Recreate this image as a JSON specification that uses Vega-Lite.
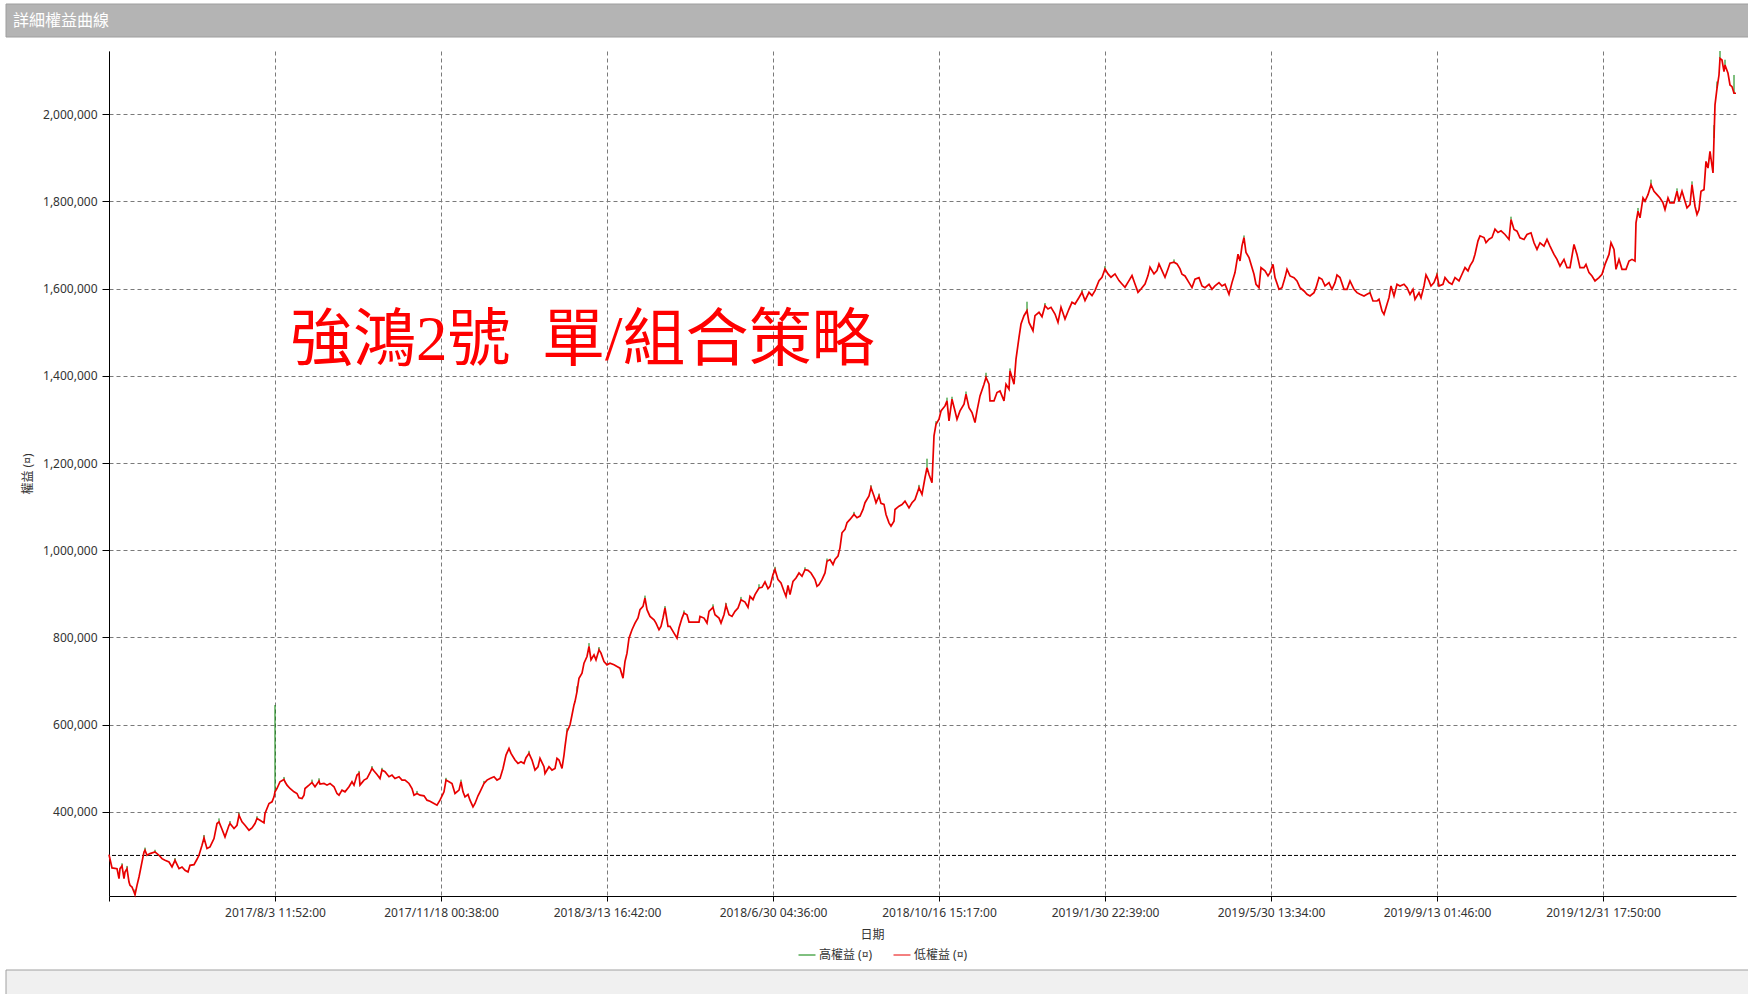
{
  "$schema": "https://vega.github.io/schema/vega-lite/v6.json",
  "background": "white",
  "padding": {"left": 5, "top": 3, "right": 0, "bottom": 0},
  "config": {"view": {"stroke": null}, "font": "Noto Sans, Noto Sans CJK TC"},
  "spacing": 8,
  "resolve": {"legend": {"color": "independent"}},
  "datasets": {
    "equity": [
      {"bar":0,"low":302000,"high":302000},{"bar":3,"low":271300,"high":271300},{"bar":8,"low":269700,"high":269700},{"bar":10,"low":246700,"high":246700},{"bar":11,"low":269700,"high":269700},{"bar":13,"low":275900,"high":282000},{"bar":15,"low":246700,"high":246700},{"bar":16,"low":262100,"high":262100},{"bar":18,"low":269700,"high":276000},{"bar":20,"low":239100,"high":239100},{"bar":21,"low":231400,"high":231400},{"bar":23,"low":227600,"high":227600},{"bar":25,"low":216100,"high":216100},{"bar":26,"low":210000,"high":222000},{"bar":28,"low":231400,"high":231400},{"bar":30,"low":250600,"high":250600},{"bar":31,"low":262100,"high":262100},{"bar":33,"low":285100,"high":285100},{"bar":35,"low":308000,"high":308000},{"bar":36,"low":311900,"high":318000},{"bar":38,"low":300400,"high":300400},{"bar":41,"low":304200,"high":304200},{"bar":46,"low":308000,"high":313000},{"bar":50,"low":300400,"high":300400},{"bar":53,"low":292700,"high":292700},{"bar":56,"low":288900,"high":288900},{"bar":60,"low":285100,"high":285100},{"bar":63,"low":273600,"high":273600},{"bar":66,"low":288900,"high":294000},{"bar":70,"low":269700,"high":269700},{"bar":73,"low":273600,"high":273600},{"bar":76,"low":265900,"high":265900},{"bar":79,"low":262100,"high":262100},{"bar":81,"low":277400,"high":277400},{"bar":85,"low":278900,"high":278900},{"bar":88,"low":291200,"high":291200},{"bar":90,"low":300400,"high":300400},{"bar":93,"low":323400,"high":323400},{"bar":95,"low":340200,"high":347000},{"bar":98,"low":315700,"high":315700},{"bar":101,"low":319500,"high":319500},{"bar":105,"low":338700,"high":338700},{"bar":108,"low":373200,"high":373200},{"bar":110,"low":377000,"high":385000},{"bar":113,"low":360200,"high":360200},{"bar":116,"low":342500,"high":342500},{"bar":120,"low":369300,"high":369300},{"bar":121,"low":373200,"high":379000},{"bar":125,"low":361700,"high":361700},{"bar":128,"low":369300,"high":369300},{"bar":130,"low":392300,"high":398000},{"bar":133,"low":377000,"high":377000},{"bar":136,"low":369300,"high":369300},{"bar":140,"low":357900,"high":357900},{"bar":143,"low":363200,"high":363200},{"bar":146,"low":373200,"high":373200},{"bar":148,"low":384700,"high":390000},{"bar":151,"low":380800,"high":380800},{"bar":155,"low":374700,"high":374700},{"bar":156,"low":396200,"high":396200},{"bar":160,"low":419200,"high":419200},{"bar":163,"low":423000,"high":423000},{"bar":165,"low":434500,"high":434500},{"bar":166,"low":446000,"high":645000},{"bar":168,"low":453600,"high":453600},{"bar":171,"low":469000,"high":469000},{"bar":175,"low":474300,"high":480000},{"bar":176,"low":469000,"high":469000},{"bar":178,"low":461300,"high":461300},{"bar":181,"low":453600,"high":453600},{"bar":185,"low":446000,"high":446000},{"bar":188,"low":442100,"high":442100},{"bar":190,"low":432200,"high":432200},{"bar":193,"low":430700,"high":430700},{"bar":195,"low":438300,"high":438300},{"bar":196,"low":453600,"high":453600},{"bar":200,"low":461300,"high":461300},{"bar":203,"low":467400,"high":474000},{"bar":206,"low":457500,"high":457500},{"bar":210,"low":470500,"high":477000},{"bar":211,"low":463600,"high":463600},{"bar":215,"low":465100,"high":465100},{"bar":218,"low":461300,"high":461300},{"bar":221,"low":465100,"high":465100},{"bar":225,"low":457500,"high":457500},{"bar":228,"low":442100,"high":442100},{"bar":230,"low":438300,"high":438300},{"bar":233,"low":449800,"high":449800},{"bar":236,"low":446000,"high":446000},{"bar":240,"low":457500,"high":457500},{"bar":243,"low":469000,"high":469000},{"bar":245,"low":461300,"high":461300},{"bar":248,"low":484300,"high":484300},{"bar":250,"low":488100,"high":494000},{"bar":251,"low":461300,"high":461300},{"bar":255,"low":472800,"high":472800},{"bar":258,"low":476600,"high":476600},{"bar":261,"low":489700,"high":489700},{"bar":263,"low":499600,"high":505000},{"bar":265,"low":493500,"high":493500},{"bar":268,"low":485800,"high":485800},{"bar":271,"low":476600,"high":476600},{"bar":273,"low":495800,"high":501000},{"bar":276,"low":492000,"high":492000},{"bar":280,"low":480500,"high":480500},{"bar":283,"low":484300,"high":484300},
      {"bar":286,"low":476600,"high":476600},{"bar":290,"low":480500,"high":480500},{"bar":293,"low":472800,"high":472800},{"bar":296,"low":472800,"high":472800},{"bar":300,"low":465100,"high":465100},{"bar":303,"low":453600,"high":453600},{"bar":305,"low":438300,"high":438300},{"bar":308,"low":442100,"high":448000},{"bar":311,"low":438300,"high":438300},{"bar":315,"low":436800,"high":436800},{"bar":318,"low":426800,"high":426800},{"bar":321,"low":424500,"high":424500},{"bar":325,"low":419200,"high":419200},{"bar":328,"low":415300,"high":415300},{"bar":331,"low":426800,"high":426800},{"bar":335,"low":446000,"high":446000},{"bar":337,"low":472800,"high":478000},{"bar":340,"low":469000,"high":469000},{"bar":343,"low":465100,"high":465100},{"bar":346,"low":442100,"high":442100},{"bar":350,"low":449800,"high":449800},{"bar":352,"low":469000,"high":474000},{"bar":354,"low":446000,"high":446000},{"bar":356,"low":434500,"high":434500},{"bar":359,"low":439800,"high":439800},{"bar":361,"low":426800,"high":426800},{"bar":364,"low":411500,"high":411500},{"bar":366,"low":419200,"high":419200},{"bar":369,"low":436800,"high":436800},{"bar":371,"low":446000,"high":446000},{"bar":375,"low":465100,"high":471000},{"bar":378,"low":472800,"high":472800},{"bar":381,"low":476600,"high":476600},{"bar":385,"low":480500,"high":480500},{"bar":388,"low":472800,"high":472800},{"bar":391,"low":476600,"high":476600},{"bar":394,"low":499600,"high":499600},{"bar":397,"low":530300,"high":530300},{"bar":400,"low":545600,"high":545600},{"bar":402,"low":534100,"high":534100},{"bar":406,"low":518800,"high":518800},{"bar":409,"low":511100,"high":511100},{"bar":412,"low":514900,"high":514900},{"bar":415,"low":511100,"high":511100},{"bar":417,"low":524100,"high":524100},{"bar":420,"low":534100,"high":540000},{"bar":423,"low":518800,"high":518800},{"bar":426,"low":495800,"high":495800},{"bar":429,"low":503500,"high":503500},{"bar":431,"low":522600,"high":522600},{"bar":435,"low":503500,"high":503500},{"bar":436,"low":488100,"high":488100},{"bar":440,"low":503500,"high":503500},{"bar":443,"low":495800,"high":495800},{"bar":446,"low":499600,"high":499600},{"bar":448,"low":522600,"high":522600},{"bar":450,"low":518800,"high":518800},{"bar":453,"low":499600,"high":499600},{"bar":455,"low":530300,"high":530300},{"bar":456,"low":549400,"high":549400},{"bar":458,"low":583900,"high":592000},{"bar":461,"low":599200,"high":599200},{"bar":463,"low":622200,"high":622200},{"bar":465,"low":645200,"high":645200},{"bar":466,"low":652900,"high":652900},{"bar":468,"low":675900,"high":688000},{"bar":470,"low":706500,"high":706500},{"bar":473,"low":718000,"high":718000},{"bar":475,"low":741000,"high":741000},{"bar":478,"low":756300,"high":756300},{"bar":480,"low":779300,"high":787000},{"bar":482,"low":748700,"high":748700},{"bar":485,"low":760100,"high":760100},{"bar":487,"low":748700,"high":748700},{"bar":490,"low":771700,"high":778000},{"bar":492,"low":764000,"high":764000},{"bar":495,"low":744800,"high":744800},{"bar":498,"low":737200,"high":737200},{"bar":501,"low":741000,"high":741000},{"bar":505,"low":737200,"high":737200},{"bar":508,"low":733300,"high":733300},{"bar":511,"low":729500,"high":729500},{"bar":514,"low":706500,"high":706500},{"bar":516,"low":744800,"high":744800},{"bar":518,"low":764000,"high":764000},{"bar":520,"low":798500,"high":798500},{"bar":523,"low":817600,"high":817600},{"bar":526,"low":832900,"high":832900},{"bar":529,"low":844500,"high":844500},{"bar":531,"low":863600,"high":863600},{"bar":534,"low":871300,"high":871300},{"bar":536,"low":890400,"high":896000},{"bar":538,"low":863600,"high":863600},{"bar":541,"low":848300,"high":848300},{"bar":545,"low":840600,"high":840600},{"bar":547,"low":832900,"high":832900},{"bar":550,"low":817600,"high":817600},{"bar":552,"low":825300,"high":825300},{"bar":554,"low":844500,"high":844500},{"bar":556,"low":867500,"high":872000},{"bar":559,"low":825300,"high":825300},
      {"bar":561,"low":825300,"high":825300},{"bar":565,"low":810000,"high":810000},{"bar":568,"low":798500,"high":798500},{"bar":570,"low":821500,"high":821500},{"bar":573,"low":844400,"high":844400},{"bar":575,"low":855900,"high":862000},{"bar":578,"low":852100,"high":852100},{"bar":580,"low":835200,"high":835200},{"bar":590,"low":835200,"high":835200},{"bar":591,"low":848300,"high":848300},{"bar":595,"low":844400,"high":844400},{"bar":598,"low":833000,"high":833000},{"bar":600,"low":859800,"high":859800},{"bar":604,"low":869000,"high":876000},{"bar":606,"low":852100,"high":852100},{"bar":610,"low":844400,"high":844400},{"bar":612,"low":833000,"high":833000},{"bar":615,"low":852100,"high":852100},{"bar":617,"low":873600,"high":879000},{"bar":620,"low":852100,"high":852100},{"bar":623,"low":848300,"high":848300},{"bar":626,"low":859800,"high":859800},{"bar":629,"low":867400,"high":867400},{"bar":632,"low":886600,"high":893000},{"bar":636,"low":881200,"high":881200},{"bar":639,"low":869000,"high":869000},{"bar":641,"low":894300,"high":894300},{"bar":644,"low":886600,"high":886600},{"bar":646,"low":898100,"high":898100},{"bar":650,"low":913400,"high":922000},{"bar":653,"low":914900,"high":914900},{"bar":656,"low":927200,"high":927200},{"bar":659,"low":911900,"high":911900},{"bar":661,"low":917200,"high":917200},{"bar":664,"low":944100,"high":944100},{"bar":666,"low":955600,"high":962000},{"bar":669,"low":932600,"high":932600},{"bar":672,"low":924900,"high":924900},{"bar":675,"low":905800,"high":905800},{"bar":677,"low":894300,"high":894300},{"bar":679,"low":919500,"high":919500},{"bar":681,"low":898100,"high":898100},{"bar":684,"low":928700,"high":928700},{"bar":687,"low":936400,"high":936400},{"bar":690,"low":947900,"high":947900},{"bar":693,"low":940200,"high":940200},{"bar":696,"low":955500,"high":961000},{"bar":699,"low":954000,"high":954000},{"bar":702,"low":947900,"high":947900},{"bar":706,"low":932600,"high":932600},{"bar":708,"low":917200,"high":917200},{"bar":710,"low":921100,"high":921100},{"bar":713,"low":932600,"high":932600},{"bar":716,"low":947900,"high":947900},{"bar":718,"low":974800,"high":981000},{"bar":721,"low":978700,"high":978700},{"bar":724,"low":967200,"high":967200},{"bar":726,"low":978700,"high":978700},{"bar":729,"low":986400,"high":986400},{"bar":731,"low":1005500,"high":1005500},{"bar":733,"low":1040000,"high":1040000},{"bar":736,"low":1047700,"high":1047700},{"bar":738,"low":1063000,"high":1063000},{"bar":741,"low":1070700,"high":1070700},{"bar":745,"low":1082200,"high":1088000},{"bar":748,"low":1074500,"high":1074500},{"bar":751,"low":1078300,"high":1078300},{"bar":754,"low":1093700,"high":1093700},{"bar":756,"low":1109000,"high":1109000},{"bar":760,"low":1124300,"high":1124300},{"bar":762,"low":1143500,"high":1149000},{"bar":765,"low":1124300,"high":1124300},{"bar":767,"low":1109000,"high":1109000},{"bar":770,"low":1124300,"high":1130000},{"bar":772,"low":1107500,"high":1107500},{"bar":775,"low":1105100,"high":1105100},{"bar":777,"low":1082000,"high":1082000},{"bar":780,"low":1062800,"high":1062800},{"bar":782,"low":1055200,"high":1055200},{"bar":785,"low":1066700,"high":1066700},{"bar":786,"low":1093500,"high":1093500},{"bar":790,"low":1101100,"high":1101100},
      {"bar":793,"low":1105000,"high":1105000},{"bar":796,"low":1112600,"high":1112600},{"bar":800,"low":1097300,"high":1097300},{"bar":803,"low":1108800,"high":1108800},{"bar":806,"low":1116500,"high":1116500},{"bar":810,"low":1143300,"high":1150000},{"bar":813,"low":1128000,"high":1128000},{"bar":816,"low":1166300,"high":1166300},{"bar":818,"low":1189300,"high":1210000},{"bar":820,"low":1173900,"high":1173900},{"bar":823,"low":1154800,"high":1154800},{"bar":825,"low":1262100,"high":1262100},{"bar":827,"low":1288900,"high":1296000},{"bar":830,"low":1300400,"high":1300400},{"bar":832,"low":1319500,"high":1319500},{"bar":836,"low":1331000,"high":1331000},{"bar":838,"low":1342500,"high":1350000},{"bar":840,"low":1296600,"high":1296600},{"bar":843,"low":1346400,"high":1352000},{"bar":846,"low":1319500,"high":1319500},{"bar":848,"low":1300400,"high":1300400},{"bar":851,"low":1319500,"high":1319500},{"bar":855,"low":1334900,"high":1334900},{"bar":857,"low":1357900,"high":1364000},{"bar":860,"low":1327200,"high":1327200},{"bar":863,"low":1315700,"high":1315700},{"bar":866,"low":1292700,"high":1292700},{"bar":868,"low":1319500,"high":1319500},{"bar":871,"low":1354000,"high":1354000},{"bar":875,"low":1380800,"high":1380800},{"bar":877,"low":1396200,"high":1407000},{"bar":880,"low":1380800,"high":1380800},{"bar":881,"low":1342500,"high":1342500},{"bar":885,"low":1342500,"high":1342500},{"bar":888,"low":1361700,"high":1361700},{"bar":891,"low":1365500,"high":1365500},{"bar":895,"low":1342500,"high":1342500},{"bar":897,"low":1380800,"high":1380800},{"bar":900,"low":1369300,"high":1369300},{"bar":901,"low":1411500,"high":1417000},{"bar":905,"low":1380800,"high":1380800},{"bar":907,"low":1438300,"high":1438300},{"bar":910,"low":1488100,"high":1488100},{"bar":912,"low":1518800,"high":1518800},{"bar":915,"low":1537900,"high":1537900},{"bar":918,"low":1549400,"high":1570000},{"bar":920,"low":1522600,"high":1522600},{"bar":924,"low":1503500,"high":1503500},{"bar":926,"low":1537900,"high":1537900},{"bar":930,"low":1545600,"high":1545600},{"bar":933,"low":1535600,"high":1535600},{"bar":936,"low":1560900,"high":1567000},{"bar":939,"low":1553200,"high":1553200},{"bar":942,"low":1557100,"high":1557100},{"bar":946,"low":1541800,"high":1541800},{"bar":949,"low":1522600,"high":1522600},{"bar":952,"low":1557100,"high":1557100},{"bar":956,"low":1530300,"high":1530300},{"bar":960,"low":1553200,"high":1553200},{"bar":963,"low":1568600,"high":1568600},{"bar":966,"low":1564700,"high":1564700},{"bar":970,"low":1579600,"high":1579600},{"bar":973,"low":1591500,"high":1598000},{"bar":976,"low":1572400,"high":1572400},{"bar":980,"low":1591500,"high":1591500},{"bar":983,"low":1583900,"high":1583900},{"bar":986,"low":1595400,"high":1595400},{"bar":990,"low":1618400,"high":1618400},{"bar":993,"low":1626100,"high":1626100},{"bar":996,"low":1645200,"high":1652000},{"bar":999,"low":1633700,"high":1633700},{"bar":1002,"low":1626100,"high":1626100},{"bar":1006,"low":1633700,"high":1633700},{"bar":1010,"low":1618400,"high":1618400},{"bar":1013,"low":1610700,"high":1610700},{"bar":1016,"low":1603100,"high":1603100},{"bar":1020,"low":1618400,"high":1618400},{"bar":1023,"low":1629900,"high":1629900},{"bar":1026,"low":1610700,"high":1610700},{"bar":1029,"low":1591500,"high":1591500},{"bar":1032,"low":1599200,"high":1599200},{"bar":1036,"low":1610700,"high":1610700},{"bar":1039,"low":1629900,"high":1629900},{"bar":1041,"low":1649100,"high":1649100},{"bar":1045,"low":1633700,"high":1633700},{"bar":1048,"low":1641400,"high":1641400},{"bar":1050,"low":1656700,"high":1656700},{"bar":1053,"low":1641400,"high":1641400},{"bar":1056,"low":1626100,"high":1626100},{"bar":1059,"low":1645200,"high":1645200},{"bar":1061,"low":1658200,"high":1658200},{"bar":1065,"low":1660500,"high":1667000},{"bar":1068,"low":1656700,"high":1656700},{"bar":1071,"low":1645200,"high":1645200},
      {"bar":1073,"low":1633000,"high":1633000},{"bar":1076,"low":1629000,"high":1629000},{"bar":1080,"low":1613800,"high":1613800},{"bar":1083,"low":1602300,"high":1602300},{"bar":1086,"low":1621500,"high":1621500},{"bar":1090,"low":1625300,"high":1625300},{"bar":1093,"low":1606100,"high":1606100},{"bar":1096,"low":1602300,"high":1602300},{"bar":1100,"low":1610000,"high":1610000},{"bar":1103,"low":1598500,"high":1598500},{"bar":1106,"low":1606100,"high":1606100},{"bar":1110,"low":1613800,"high":1613800},{"bar":1113,"low":1606100,"high":1606100},{"bar":1116,"low":1610000,"high":1610000},{"bar":1120,"low":1587000,"high":1587000},{"bar":1123,"low":1613800,"high":1613800},{"bar":1126,"low":1636800,"high":1636800},{"bar":1129,"low":1678900,"high":1678900},{"bar":1131,"low":1663600,"high":1663600},{"bar":1133,"low":1698100,"high":1698100},{"bar":1135,"low":1717200,"high":1722000},{"bar":1137,"low":1682800,"high":1682800},{"bar":1140,"low":1671300,"high":1671300},{"bar":1142,"low":1655900,"high":1655900},{"bar":1145,"low":1633000,"high":1633000},{"bar":1147,"low":1610000,"high":1610000},{"bar":1150,"low":1602300,"high":1602300},{"bar":1152,"low":1648300,"high":1648300},{"bar":1156,"low":1640600,"high":1640600},{"bar":1159,"low":1629100,"high":1629100},{"bar":1161,"low":1636800,"high":1636800},{"bar":1164,"low":1655900,"high":1655900},{"bar":1166,"low":1625300,"high":1625300},{"bar":1170,"low":1598500,"high":1598500},{"bar":1173,"low":1602300,"high":1602300},{"bar":1176,"low":1625300,"high":1625300},{"bar":1178,"low":1644400,"high":1644400},{"bar":1181,"low":1629100,"high":1629100},{"bar":1185,"low":1625300,"high":1625300},{"bar":1188,"low":1617600,"high":1617600},{"bar":1191,"low":1602300,"high":1602300},{"bar":1195,"low":1594600,"high":1594600},{"bar":1198,"low":1587000,"high":1587000},{"bar":1201,"low":1583100,"high":1583100},{"bar":1205,"low":1590800,"high":1590800},{"bar":1207,"low":1602300,"high":1602300},{"bar":1210,"low":1625300,"high":1625300},{"bar":1213,"low":1621500,"high":1621500},{"bar":1216,"low":1606100,"high":1606100},{"bar":1220,"low":1613800,"high":1613800},{"bar":1223,"low":1598500,"high":1598500},{"bar":1226,"low":1613800,"high":1613800},{"bar":1228,"low":1631400,"high":1631400},{"bar":1231,"low":1625300,"high":1625300},{"bar":1235,"low":1598500,"high":1598500},{"bar":1238,"low":1598500,"high":1598500},{"bar":1241,"low":1617600,"high":1617600},{"bar":1245,"low":1598500,"high":1598500},{"bar":1248,"low":1590800,"high":1590800},{"bar":1251,"low":1587000,"high":1587000},{"bar":1255,"low":1583100,"high":1583100},{"bar":1258,"low":1587000,"high":1587000},{"bar":1261,"low":1590800,"high":1597000},{"bar":1264,"low":1571600,"high":1571600},{"bar":1268,"low":1571600,"high":1571600},{"bar":1270,"low":1575500,"high":1575500},{"bar":1273,"low":1548700,"high":1548700},{"bar":1275,"low":1541000,"high":1541000},{"bar":1278,"low":1564000,"high":1564000},{"bar":1280,"low":1579300,"high":1579300},{"bar":1282,"low":1606100,"high":1606100},{"bar":1285,"low":1583100,"high":1583100},{"bar":1288,"low":1610000,"high":1610000},{"bar":1291,"low":1606100,"high":1606100},{"bar":1295,"low":1610000,"high":1610000},{"bar":1298,"low":1602300,"high":1602300},{"bar":1301,"low":1587000,"high":1587000},{"bar":1304,"low":1598500,"high":1598500},{"bar":1306,"low":1575500,"high":1575500},{"bar":1310,"low":1590800,"high":1590800},{"bar":1312,"low":1579300,"high":1579300},{"bar":1315,"low":1606100,"high":1606100},{"bar":1317,"low":1631400,"high":1631400},{"bar":1320,"low":1617600,"high":1617600},{"bar":1322,"low":1606100,"high":1606100},{"bar":1325,"low":1613800,"high":1613800},{"bar":1328,"low":1631400,"high":1637000},{"bar":1330,"low":1606100,"high":1606100},{"bar":1334,"low":1610000,"high":1610000},{"bar":1336,"low":1625300,"high":1625300},{"bar":1340,"low":1613800,"high":1613800},{"bar":1343,"low":1610000,"high":1610000},{"bar":1346,"low":1625300,"high":1625300},{"bar":1350,"low":1617600,"high":1617600},{"bar":1353,"low":1633000,"high":1633000},{"bar":1356,"low":1648300,"high":1648300},{"bar":1359,"low":1640600,"high":1640600},{"bar":1361,"low":1652100,"high":1652100},{"bar":1364,"low":1663600,"high":1663600},{"bar":1366,"low":1678900,"high":1678900},{"bar":1369,"low":1709600,"high":1709600},{"bar":1371,"low":1721100,"high":1721100},{"bar":1375,"low":1717200,"high":1717200},{"bar":1377,"low":1705700,"high":1705700},{"bar":1380,"low":1713400,"high":1713400},{"bar":1383,"low":1717200,"high":1717200},{"bar":1386,"low":1736400,"high":1736400},{"bar":1389,"low":1728700,"high":1728700},{"bar":1392,"low":1732600,"high":1732600},
      {"bar":1396,"low":1724200,"high":1724200},{"bar":1400,"low":1712800,"high":1712800},{"bar":1402,"low":1758500,"high":1765000},{"bar":1405,"low":1735600,"high":1735600},{"bar":1408,"low":1731800,"high":1731800},{"bar":1411,"low":1716600,"high":1716600},{"bar":1415,"low":1712800,"high":1712800},{"bar":1418,"low":1724200,"high":1724200},{"bar":1422,"low":1728000,"high":1728000},{"bar":1425,"low":1705200,"high":1705200},{"bar":1428,"low":1689900,"high":1689900},{"bar":1431,"low":1705200,"high":1705200},{"bar":1435,"low":1697500,"high":1697500},{"bar":1438,"low":1712800,"high":1712800},{"bar":1441,"low":1697500,"high":1697500},{"bar":1445,"low":1678500,"high":1678500},{"bar":1448,"low":1667100,"high":1667100},{"bar":1451,"low":1651800,"high":1651800},{"bar":1455,"low":1667100,"high":1667100},{"bar":1458,"low":1648000,"high":1648000},{"bar":1461,"low":1648000,"high":1648000},{"bar":1465,"low":1701300,"high":1701300},{"bar":1468,"low":1678500,"high":1678500},{"bar":1471,"low":1648000,"high":1648000},{"bar":1475,"low":1648000,"high":1648000},{"bar":1477,"low":1655600,"high":1655600},{"bar":1480,"low":1636600,"high":1636600},{"bar":1483,"low":1629000,"high":1629000},{"bar":1486,"low":1617500,"high":1617500},{"bar":1490,"low":1625100,"high":1625100},{"bar":1493,"low":1632800,"high":1632800},{"bar":1496,"low":1655600,"high":1655600},{"bar":1500,"low":1678500,"high":1678500},{"bar":1502,"low":1705200,"high":1705200},{"bar":1505,"low":1689900,"high":1689900},{"bar":1507,"low":1644200,"high":1644200},{"bar":1510,"low":1667100,"high":1667100},{"bar":1513,"low":1644200,"high":1644200},{"bar":1517,"low":1644200,"high":1644200},{"bar":1520,"low":1663200,"high":1663200},{"bar":1523,"low":1667100,"high":1667100},{"bar":1526,"low":1663200,"high":1663200},{"bar":1527,"low":1750900,"high":1750900},{"bar":1529,"low":1777500,"high":1785000},{"bar":1531,"low":1762300,"high":1762300},{"bar":1534,"low":1808000,"high":1808000},{"bar":1536,"low":1800400,"high":1800400},{"bar":1539,"low":1815600,"high":1815600},{"bar":1542,"low":1838500,"high":1850000},{"bar":1545,"low":1823300,"high":1823300},{"bar":1548,"low":1815600,"high":1815600},{"bar":1551,"low":1808000,"high":1808000},{"bar":1554,"low":1796600,"high":1796600},{"bar":1556,"low":1781400,"high":1781400},{"bar":1559,"low":1808000,"high":1808000},{"bar":1561,"low":1796600,"high":1796600},{"bar":1565,"low":1796600,"high":1796600},{"bar":1568,"low":1823300,"high":1830000},{"bar":1570,"low":1800400,"high":1800400},{"bar":1573,"low":1823300,"high":1823300},{"bar":1576,"low":1800400,"high":1800400},{"bar":1578,"low":1785200,"high":1785200},{"bar":1581,"low":1792800,"high":1792800},{"bar":1583,"low":1838500,"high":1846000},{"bar":1586,"low":1789000,"high":1789000},{"bar":1588,"low":1769900,"high":1769900},{"bar":1590,"low":1781400,"high":1781400},{"bar":1592,"low":1823300,"high":1823300},{"bar":1595,"low":1827100,"high":1827100},{"bar":1597,"low":1891800,"high":1891800},{"bar":1599,"low":1876600,"high":1876600},{"bar":1601,"low":1914700,"high":1914700},{"bar":1604,"low":1865200,"high":1865200},{"bar":1605,"low":1945200,"high":1975000},{"bar":1606,"low":2021400,"high":2021400},{"bar":1608,"low":2059500,"high":2075000},{"bar":1610,"low":2089900,"high":2089900},{"bar":1611,"low":2128100,"high":2145000},{"bar":1613,"low":2124300,"high":2124300},{"bar":1615,"low":2097600,"high":2097600},{"bar":1616,"low":2112900,"high":2125000},{"bar":1619,"low":2093800,"high":2093800},{"bar":1621,"low":2067100,"high":2067100},{"bar":1623,"low":2063300,"high":2063300},{"bar":1625,"low":2048100,"high":2090000},{"bar":1627,"low":2048100,"high":2048100}
    ]
  },
  "vconcat": [
    {
      "width": 1640,
      "height": 33,
      "data": {"values": [{"label": "詳細權益曲線", "start": -103, "end": 1640}]},
      "encoding": {
        "x": {"field": "start", "type": "quantitative", "scale": {"domain": [0, 1640], "nice": false, "zero": false}, "axis": null}
      },
      "layer": [
        {
          "mark": {"type": "rect", "color": "#b4b4b4", "stroke": "#9e9e9e", "strokeWidth": 1},
          "encoding": {"x2": {"field": "end"}}
        },
        {
          "mark": {"type": "text", "align": "left", "baseline": "middle", "dx": 7, "color": "white", "fontSize": 16, "font": "Noto Sans CJK TC"},
          "encoding": {"text": {"field": "label"}}
        },
        {
          "mark": {"type": "text", "baseline": "top", "dy": 13.5, "fontSize": 8},
          "encoding": {"text": {"value": " "}}
        }
      ]
    },
    {
      "width": 1627,
      "height": 845,
      "layer": [
        {
          "data": {"values": [{"v": 300000}]},
          "mark": {"type": "rule", "color": "black", "strokeDash": [4, 2], "strokeWidth": 1},
          "encoding": {"y": {"field": "v", "type": "quantitative"}}
        },
        {
          "data": {"name": "equity"},
          "mark": {"type": "rule", "strokeWidth": 1},
          "encoding": {
            "x": {"field": "bar", "type": "quantitative"},
            "y": {"field": "low", "type": "quantitative"},
            "y2": {"field": "high"},
            "color": {"datum": "高權益 (¤)"}
          }
        },
        {
          "data": {"name": "equity"},
          "mark": {"type": "line", "strokeWidth": 1.7},
          "encoding": {
            "x": {
              "field": "bar", "type": "quantitative",
              "scale": {"domain": [0, 1627], "nice": false, "zero": false},
              "axis": {
                "values": [0, 166, 332, 498, 664, 830, 996, 1162, 1328, 1494],
                "labelExpr": "['', '2017/8/3 11:52:00', '2017/11/18 00:38:00', '2018/3/13 16:42:00', '2018/6/30 04:36:00', '2018/10/16 15:17:00', '2019/1/30 22:39:00', '2019/5/30 13:34:00', '2019/9/13 01:46:00', '2019/12/31 17:50:00'][round(datum.value / 166)]",
                "title": "日期",
                "titleX": 763,
                "titlePadding": 11,
                "titleFontSize": 12,
                "titleFontWeight": "normal",
                "titleColor": "#333333",
                "grid": true,
                "gridDash": [4, 3],
                "gridColor": "#7a7a7a",
                "gridWidth": 1,
                "domainColor": "black",
                "tickColor": "black",
                "tickSize": 5,
                "labelPadding": 6,
                "labelFontSize": 12,
                "labelColor": "#333333",
                "labelFlush": false,
                "labelOverlap": false
              }
            },
            "y": {
              "field": "low", "type": "quantitative",
              "scale": {"domain": [207000, 2145000], "nice": false, "zero": false},
              "axis": {
                "values": [400000, 600000, 800000, 1000000, 1200000, 1400000, 1600000, 1800000, 2000000],
                "format": ",d",
                "title": ["", "權益 (¤)"],
                "titleLineHeight": 16,
                "titlePadding": 8,
                "titleFontSize": 12,
                "titleFontWeight": "normal",
                "titleColor": "#333333",
                "grid": true,
                "gridDash": [4, 3],
                "gridColor": "#7a7a7a",
                "gridWidth": 1,
                "domainColor": "black",
                "tickColor": "black",
                "tickSize": 7,
                "labelPadding": 5,
                "labelFontSize": 12,
                "labelColor": "#333333"
              }
            },
            "color": {
              "datum": "低權益 (¤)",
              "scale": {"domain": ["高權益 (¤)", "低權益 (¤)"], "range": ["#008000", "#e80000"]},
              "legend": {
                "orient": "none",
                "legendX": 689,
                "legendY": 895,
                "direction": "horizontal",
                "title": null,
                "symbolType": "stroke",
                "symbolSize": 289,
                "symbolStrokeWidth": 1,
                "labelFontSize": 12,
                "labelColor": "#333333",
                "labelOffset": 3,
                "columnPadding": 18
              }
            }
          }
        },
        {
          "data": {"values": [{"bar": 181, "value": 1481000, "label": "強鴻2號\u00a0\u00a0單/組合策略"}]},
          "mark": {"type": "text", "align": "left", "baseline": "middle", "fontSize": 63, "color": "#ff0000", "font": "Liberation Serif, Noto Sans CJK TC"},
          "encoding": {
            "x": {"field": "bar", "type": "quantitative"},
            "y": {"field": "value", "type": "quantitative"},
            "text": {"field": "label"}
          }
        }
      ]
    },
    {
      "width": 1640,
      "height": 25,
      "data": {"values": [{"start": -103, "end": 1640}]},
      "mark": {"type": "rect", "color": "#f0f0f0", "stroke": "#a0a0a0", "strokeWidth": 1},
      "encoding": {
        "x": {"field": "start", "type": "quantitative", "scale": {"domain": [0, 1640], "nice": false, "zero": false}, "axis": null},
        "x2": {"field": "end"}
      }
    }
  ]
}
